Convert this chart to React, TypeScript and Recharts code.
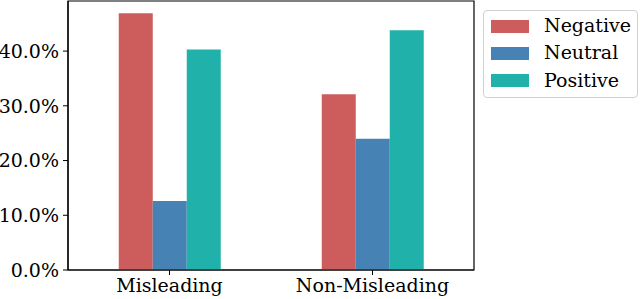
import React from "react";
import { BarChart, Bar, XAxis, YAxis, ReferenceArea } from "recharts";

const categories = ["Misleading", "Non-Misleading"];
const negative = [0.469, 0.321];
const neutral = [0.126, 0.24];
const positive = [0.403, 0.438];
const yTicks = [0, 0.1, 0.2, 0.3, 0.4];
const yMax = 0.4915;

const SERIES = [
  { key: "Negative", color: "#CD5C5C", values: negative },
  { key: "Neutral", color: "#4682B4", values: neutral },
  { key: "Positive", color: "#20B2AA", values: positive },
];

const FONT = "'DejaVu Serif', serif";

const data = categories.map((name, i) => {
  const row: Record<string, any> = { name };
  SERIES.forEach(s => { row[s.key] = s.values[i]; });
  return row;
});

function LegendBox() {
  return (
    <div style={{
      position: "absolute", left: 483, top: 10,
      width: 153, height: 86, border: "1px solid #d0d0d0", borderRadius: 4,
      background: "#fff", fontFamily: FONT, fontSize: 19, color: "#000",
    }}>
      {SERIES.map((s, i) => (
        <div key={s.key} style={{ position: "absolute", left: 0, top: 4 + i * 27.4, height: 22, width: 153 }}>
          <div style={{ position: "absolute", left: 7, top: 4.5, width: 38, height: 13, background: s.color }} />
          <span style={{ position: "absolute", left: 60, top: -1, lineHeight: "22px", whiteSpace: "nowrap" }}>{s.key}</span>
        </div>
      ))}
    </div>
  );
}

export default function App() {
  return (
    <div style={{ position: "absolute", left: 0, top: 0, width: 640, height: 299, background: "#fff" }}>
      <BarChart
        width={640}
        height={299}
        data={data}
        margin={{ top: 1, right: 166, bottom: 0, left: 0 }}
        barCategoryGap="25%"
        barGap={0}
      >
        <XAxis
          dataKey="name"
          height={29}
          tickSize={5}
          tickMargin={4}
          axisLine={{ stroke: "#000", strokeWidth: 1.2 }}
          tickLine={{ stroke: "#000" }}
          tick={{ fill: "#000", fontFamily: FONT, fontSize: 19 }}
          interval={0}
        />
        <YAxis
          width={68}
          domain={[0, yMax]}
          ticks={yTicks}
          tickSize={5}
          tickMargin={4}
          allowDataOverflow
          tickFormatter={(v: number) => (v * 100).toFixed(1) + "%"}
          axisLine={{ stroke: "#000", strokeWidth: 1.2 }}
          tickLine={{ stroke: "#000" }}
          tick={{ fill: "#000", fontFamily: FONT, fontSize: 19 }}
        />
        {SERIES.map(s => (
          <Bar key={s.key} dataKey={s.key} fill={s.color} isAnimationActive={false} />
        ))}
        <ReferenceArea y1={0} y2={yMax} fill="none" fillOpacity={0} stroke="#000" strokeWidth={1.2} ifOverflow="visible" />
      </BarChart>
      <LegendBox />
    </div>
  );
}
